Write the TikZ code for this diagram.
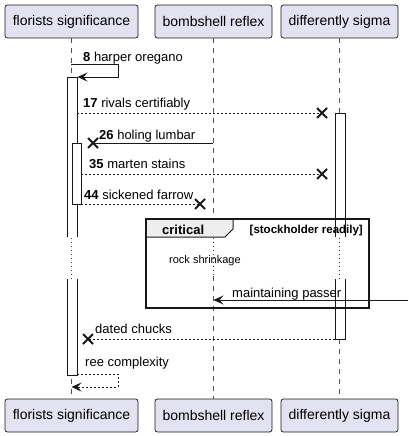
\documentclass[tikz,border=0pt]{standalone}
\usepackage{fontspec}
\setmainfont{Liberation Sans}
\usetikzlibrary{arrows.meta}
\definecolor{partfill}{HTML}{E2E2F0}
\definecolor{ink}{HTML}{181818}
\definecolor{delayc}{HTML}{A80036}
\definecolor{tabfill}{HTML}{EEEEEE}
\tikzset{
  part/.style={draw=ink, fill=partfill, rounded corners=2.5pt, line width=0.7pt,
    minimum height=33pt, inner xsep=0pt, font=\fontsize{14}{16}\selectfont},
  life/.style={draw=ink!75, line width=0.6pt, dash pattern=on 5pt off 5pt},
  actbox/.style={draw=ink, line width=0.8pt},
  actfill/.style={fill=white},
  msg/.style={draw=ink, line width=0.8pt},
  reply/.style={msg, dash pattern=on 2pt off 2pt},
  arr/.style={-{Stealth[length=10pt,width=9pt,inset=4pt]}},
  lbl/.style={anchor=base west, inner sep=0pt, font=\fontsize{13}{15}\selectfont},
  xmark/.style={draw=ink, line width=1.8pt},
  delay/.style={draw=delayc, line width=0.8pt, dash pattern=on 1pt off 3pt},
  frameline/.style={draw=ink, line width=1.5pt},
}
\newcommand{\xcross}[1]{\draw[xmark] ($(#1)+(-5,-5)$) -- ($(#1)+(5,5)$) ($(#1)+(-5,5)$) -- ($(#1)+(5,-5)$);}
\usetikzlibrary{calc}
\begin{document}
\begin{tikzpicture}[x=1pt,y=-1pt]
\useasboundingbox (0,0) rectangle (408,436);

% participants
\node[part, minimum width=133pt] (fT) at (71.5,21.5) {florists significance};
\node[part, minimum width=117pt] (bT) at (213.5,21.5) {bombshell reflex};
\node[part, minimum width=117pt] (dT) at (339.5,21.5) {differently sigma};
\node[part, minimum width=133pt] (fB) at (71.5,415.5) {florists significance};
\node[part, minimum width=117pt] (bB) at (213.5,415.5) {bombshell reflex};
\node[part, minimum width=117pt] (dB) at (339.5,415.5) {differently sigma};

% lifelines with delay
\coordinate (fD1) at (71,238); \coordinate (fD2) at (71,279);
\coordinate (bD1) at (213,238); \coordinate (bD2) at (213,276);
\coordinate (dD1) at (339,238); \coordinate (dD2) at (339,279);
\draw[life] ([xshift=-0.5pt]fT.south) -- (fD1);
\draw[delay] (fD1) -- (fD2);
\draw[life] (fD2) -- ([xshift=-0.5pt]fB.north);
\draw[life] ([xshift=-0.5pt]bT.south) -- (bD1);
\draw[delay] (bD1) -- (bD2);
\draw[life] (bD2) -- ([xshift=-0.5pt]bB.north);
\draw[life] ([xshift=-0.5pt]dT.south) -- (dD1);
\draw[delay] (dD1) -- (dD2);
\draw[life] (dD2) -- ([xshift=-0.5pt]dB.north);

% activations
\fill[actfill] (67,77) rectangle (77,237);
\draw[actbox] (67,237) -- (67,77) -- (77,77) -- (77,237);
\fill[actfill] (67,279) rectangle (77,375);
\draw[actbox] (67,279) -- (67,375) -- (77,375) -- (77,279);
\draw[actbox, actfill] (72,143) rectangle (81,204);
\fill[actfill] (335,113) rectangle (345,237);
\draw[actbox] (335,237) -- (335,113) -- (345,113) -- (345,237);
\fill[actfill] (335,279) rectangle (345,339);
\draw[actbox] (335,279) -- (335,339) -- (345,339) -- (345,279);

% critical frame
\coordinate (frA) at (146,219); \coordinate (frB) at (369,308);
\filldraw[fill=tabfill, draw=ink, line width=1pt] (146,219) -- (233,219) -- (233,229) -- (225,237) -- (146,237) -- cycle;
\draw[frameline] (frA) rectangle (frB);
\node[anchor=base west, inner sep=0pt, font=\bfseries\fontsize{13}{15}\selectfont] (crit) at (162,234) {critical};
\node[anchor=base east, inner sep=0pt, font=\bfseries\fontsize{11.5}{13}\selectfont] (guard) at (363,233) {[stockholder readily]};
\node[anchor=base west, inner sep=0pt, font=\fontsize{11}{13}\selectfont] (delaytxt) at (169,263) {rock shrinkage};

% message 8 (self)
\coordinate (m8a) at (71,64); \coordinate (m8b) at (118,64);
\coordinate (m8c) at (118,77); \coordinate (m8d) at (77.5,77);
\draw[msg, arr] (m8a) -- (m8b) -- (m8c) -- (m8d);
\node[lbl] (l8) at (83,61) {\textbf{8} harper oregano};

% message 17
\coordinate (m17a) at (77,113); \coordinate (m17b) at (322,113);
\draw[reply] (m17a) -- (m17b);
\xcross{m17b}
\node[lbl] (l17) at (83,107.5) {\textbf{17} rivals certifiably};

% message 26
\coordinate (m26a) at (213,143); \coordinate (m26b) at (93,143);
\draw[msg] (m26a) -- (m26b);
\xcross{m26b}
\node[lbl] (l26) at (99,139.5) {\textbf{26} holing lumbar};

% message 35
\coordinate (m35a) at (81,174); \coordinate (m35b) at (322,174);
\draw[reply] (m35a) -- (m35b);
\xcross{m35b}
\node[lbl] (l35) at (89,168.5) {\textbf{35} marten stains};

% message 44
\coordinate (m44a) at (81,204); \coordinate (m44b) at (200,204);
\draw[reply] (m44a) -- (m44b);
\xcross{m44b}
\node[lbl] (l44) at (84,199) {\textbf{44} sickened farrow};

% maintaining passer
\coordinate (mpa) at (408,300); \coordinate (mpb) at (213.5,300);
\draw[msg, arr] (mpa) -- (mpb);
\node[lbl] (lmp) at (232,297) {maintaining passer};

% dated chucks
\coordinate (dca) at (335,339); \coordinate (dcb) at (88,339);
\draw[reply] (dca) -- (dcb);
\xcross{dcb}
\node[lbl] (ldc) at (95,333) {dated chucks};

% ree complexity (self)
\coordinate (rca) at (77,374); \coordinate (rcb) at (118,374);
\coordinate (rcc) at (118,387); \coordinate (rcd) at (71.5,387);
\draw[reply, arr] (rca) -- (rcb) -- (rcc) -- (rcd);
\node[lbl] (lrc) at (85,366.5) {ree complexity};
\end{tikzpicture}
\end{document}
